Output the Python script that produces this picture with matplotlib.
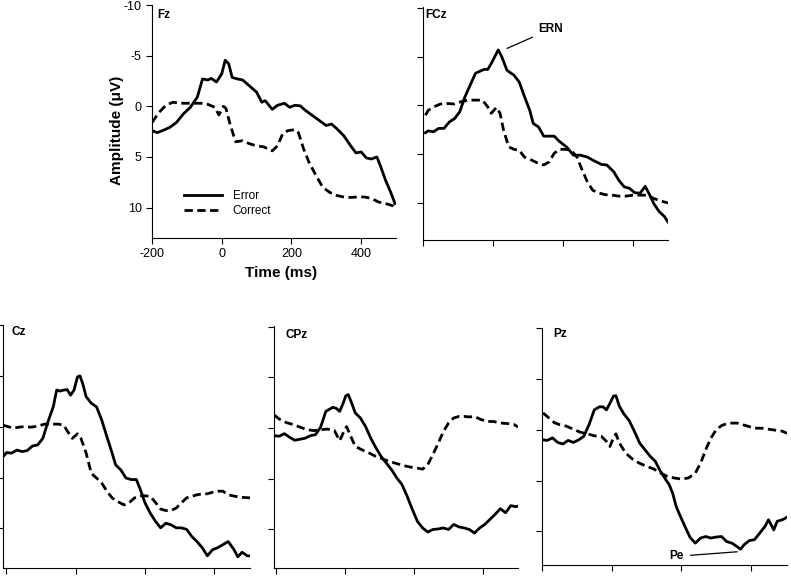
import numpy as np
import matplotlib.pyplot as plt

plt.rcParams['font.family'] = ['Liberation Sans', 'DejaVu Sans']
plt.rcParams['axes.unicode_minus'] = False

# ---- data (time in ms, amplitude in uV) ----
# Fz
fz_t_err = [-200, -185, -170, -150, -130, -110, -90, -70, -55, -40, -30, -15, 0, 10, 20, 30, 45, 60, 80,
            100, 115, 125, 145, 160, 180, 195, 210, 225, 240, 260, 280, 300, 315, 330, 350, 370, 385,
            400, 415, 430, 445, 455, 470, 485, 497]
fz_err = [2.4, 2.6, 2.4, 2.1, 1.6, 0.75, 0.1, -0.9, -2.7, -2.6, -2.75, -2.4, -3.2, -4.55, -4.2, -2.85,
          -2.7, -2.6, -2.0, -1.4, -0.4, -0.55, 0.3, -0.1, -0.3, 0.1, -0.1, -0.05, 0.4, 0.9, 1.4, 1.9,
          1.75, 2.2, 2.9, 3.9, 4.6, 4.5, 5.1, 5.2, 5.0, 5.85, 7.3, 8.5, 9.6]
fz_t_cor = [-200, -180, -160, -140, -120, -100, -80, -60, -40, -20, -8, 5, 12, 25, 40, 60, 80, 100, 120,
            145, 160, 175, 190, 210, 220, 235, 250, 270, 290, 310, 330, 350, 370, 390, 410, 430, 450,
            470, 490, 500]
fz_cor = [1.6, 0.6, -0.1, -0.4, -0.3, -0.3, -0.3, -0.3, -0.2, 0.1, 0.85, 0.0, 0.2, 1.9, 3.5, 3.4, 3.7,
          3.9, 4.0, 4.4, 3.9, 2.7, 2.4, 2.3, 2.6, 4.2, 5.5, 6.8, 8.0, 8.5, 8.8, 8.95, 9.0, 8.95, 8.95,
          9.1, 9.45, 9.6, 9.8, 10.2]

# FCz
fcz_t_err = [-193, -185, -170, -155, -140, -125, -110, -95, -80, -65, -50, -35, -25, -15, -5, 5, 15, 25,
             40, 60, 75, 90, 105, 115, 130, 145, 160, 175, 190, 210, 230, 250, 270, 290, 310, 325, 345,
             360, 375, 390, 405, 420, 435, 448, 460, 475, 490, 500]
fcz_err = [2.8, 2.6, 2.7, 2.35, 2.35, 1.7, 1.35, 0.65, -0.9, -2.1, -3.3, -3.55, -3.7, -3.7, -4.3, -5.0,
           -5.7, -5.0, -3.6, -3.1, -2.4, -0.9, 0.5, 1.85, 2.2, 3.15, 3.15, 3.15, 3.7, 4.25, 5.1, 5.1,
           5.3, 5.7, 6.05, 6.1, 6.8, 7.7, 8.35, 8.5, 8.95, 9.0, 8.3, 9.2, 10.1, 10.9, 11.4, 11.95]
fcz_t_cor = [-193, -185, -170, -150, -130, -110, -90, -70, -50, -30, -15, -5, 10, 20, 30, 45, 60, 75, 90,
             110, 130, 145, 160, 175, 190, 210, 225, 240, 255, 270, 285, 300, 320, 340, 360, 380, 400,
             420, 440, 460, 480, 500]
fcz_cor = [1.0, 0.5, 0.15, -0.15, -0.2, -0.15, -0.4, -0.55, -0.55, -0.55, 0.15, 0.8, 0.2, 0.8, 2.5, 4.25,
           4.5, 4.6, 5.3, 5.6, 5.95, 6.1, 5.8, 4.9, 4.5, 4.5, 4.65, 5.3, 6.65, 7.85, 8.7, 8.95, 9.15,
           9.2, 9.3, 9.3, 9.2, 9.2, 9.2, 9.55, 9.8, 10.0]

# Cz
cz_t_err = [-210, -200, -185, -170, -155, -140, -125, -110, -95, -80, -65, -55, -45, -35, -25, -15, -5,
            5, 12, 20, 30, 45, 60, 75, 90, 105, 115, 130, 145, 160, 175, 185, 200, 215, 230, 245, 260,
            275, 290, 305, 320, 335, 350, 365, 380, 395, 410, 425, 440, 455, 468, 480, 495, 503]
cz_err = [2.95, 2.55, 2.6, 2.3, 2.45, 2.35, 1.9, 1.8, 1.15, -0.5, -1.95, -3.6, -3.5, -3.6, -3.65, -3.1,
          -3.6, -4.9, -5.0, -4.25, -2.95, -2.3, -1.95, -0.65, 1.0, 2.6, 3.75, 4.25, 5.05, 5.2, 5.2, 6.05,
          7.5, 8.5, 9.3, 9.95, 9.5, 9.65, 9.95, 9.95, 10.1, 10.8, 11.3, 11.9, 12.7, 12.1, 11.9, 11.6,
          11.3, 12.0, 12.8, 12.35, 12.7, 12.7]
cz_t_cor = [-210, -195, -180, -165, -150, -130, -110, -90, -70, -50, -35, -20, -10, 5, 15, 30, 45, 60, 75,
            90, 105, 120, 140, 155, 170, 185, 200, 215, 230, 245, 260, 275, 290, 305, 320, 335, 350,
            365, 380, 395, 410, 425, 440, 460, 480, 503]
cz_cor = [-0.15, 0.0, 0.15, 0.05, 0.0, 0.05, -0.05, -0.25, -0.25, -0.25, -0.15, 0.65, 1.15, 0.7, 1.15,
          2.6, 4.6, 5.05, 5.55, 6.35, 7.0, 7.35, 7.7, 7.45, 7.0, 6.8, 6.8, 6.85, 7.45, 8.1, 8.25, 8.25,
          8.0, 7.5, 7.0, 6.85, 6.7, 6.6, 6.6, 6.45, 6.35, 6.35, 6.7, 6.85, 6.95, 7.0]

# CPz
cpz_t_err = [-205, -190, -175, -160, -145, -130, -115, -100, -85, -70, -55, -45, -35, -25, -15, -5, 3, 10,
             20, 30, 45, 60, 75, 90, 105, 120, 135, 150, 165, 180, 195, 210, 225, 240, 255, 270, 285,
             300, 315, 330, 345, 360, 375, 390, 405, 420, 435, 450, 465, 480, 495, 501]
cpz_err = [0.75, 0.8, 0.55, 0.9, 1.2, 1.1, 1.0, 0.75, 0.65, -0.1, -1.65, -1.85, -2.05, -1.95, -1.65,
           -2.45, -3.2, -3.3, -2.45, -1.5, -1.0, -0.15, 1.0, 1.95, 2.8, 3.45, 4.1, 4.9, 5.55, 6.7, 8.0,
           9.2, 9.85, 10.25, 10.0, 9.95, 9.85, 10.0, 9.5, 9.75, 9.85, 10.0, 10.35, 9.85, 9.5, 9.0, 8.5,
           7.95, 8.35, 7.65, 7.75, 7.7]
cpz_t_cor = [-205, -190, -170, -150, -130, -110, -90, -70, -50, -30, -15, -5, 5, 15, 30, 50, 70, 90, 110,
             130, 150, 170, 190, 210, 225, 240, 255, 270, 285, 300, 315, 330, 345, 360, 375, 390, 410,
             430, 450, 470, 490, 501]
cpz_cor = [-1.3, -0.9, -0.55, -0.35, -0.1, 0.15, 0.25, 0.15, 0.1, 0.25, 1.25, 0.5, -0.15, 0.65, 1.8,
           2.15, 2.45, 2.8, 3.05, 3.3, 3.5, 3.7, 3.85, 3.95, 4.05, 3.6, 2.6, 1.5, 0.35, -0.5, -1.0,
           -1.15, -1.15, -1.1, -1.15, -0.9, -0.65, -0.65, -0.5, -0.45, -0.35, -0.1]

# Pz
pz_t_err = [-197, -185, -170, -155, -140, -125, -110, -95, -80, -65, -50, -35, -25, -15, -5, 5, 12, 22,
            35, 50, 65, 80, 95, 110, 125, 140, 155, 165, 175, 185, 195, 210, 225, 240, 255, 270, 285,
            300, 315, 330, 345, 360, 370, 380, 395, 410, 425, 440, 450, 465, 475, 490, 503]
pz_err = [1.0, 1.05, 0.8, 1.25, 1.4, 1.05, 1.25, 1.0, 0.65, -0.5, -1.95, -2.25, -2.25, -1.95, -2.6,
          -3.3, -3.35, -2.3, -1.55, -0.9, 0.15, 1.3, 1.95, 2.6, 3.1, 4.1, 4.9, 5.4, 6.25, 7.55, 8.35,
          9.5, 10.6, 11.15, 10.65, 10.5, 10.65, 10.55, 10.5, 11.0, 11.15, 11.5, 11.75, 11.3, 10.9,
          10.8, 10.15, 9.5, 8.85, 9.85, 9.0, 8.85, 8.6]
pz_t_cor = [-197, -180, -165, -150, -130, -110, -90, -70, -50, -30, -15, -5, 5, 12, 22, 40, 60, 80, 100,
            120, 140, 160, 180, 200, 220, 240, 255, 270, 285, 300, 315, 330, 345, 360, 375, 390, 410,
            430, 450, 470, 490, 503]
pz_cor = [-1.65, -1.15, -0.7, -0.5, -0.35, -0.05, 0.25, 0.4, 0.6, 0.65, 1.15, 1.65, 0.8, 0.4, 1.3, 2.3,
          2.9, 3.3, 3.6, 3.85, 4.25, 4.6, 4.75, 4.85, 4.75, 4.25, 3.3, 1.95, 0.8, 0.0, -0.4, -0.6,
          -0.65, -0.65, -0.5, -0.35, -0.15, -0.15, -0.05, 0.05, 0.15, 0.35]

names = ['Fz', 'FCz', 'Cz', 'CPz', 'Pz']
t_err = [fz_t_err, fcz_t_err, cz_t_err, cpz_t_err, pz_t_err]
v_err = [fz_err, fcz_err, cz_err, cpz_err, pz_err]
t_cor = [fz_t_cor, fcz_t_cor, cz_t_cor, cpz_t_cor, pz_t_cor]
v_cor = [fz_cor, fcz_cor, cz_cor, cpz_cor, pz_cor]

x_ticks = [-200, 0, 200, 400]
y_ticks = [-10, -5, 0, 5, 10]

# ---- layout (pixel boxes: left, right, top, bottom) ----
W, H = 791, 579
boxes = [(152, 396, 5, 238), (423, 668, 7, 240), (3, 250, 325, 568),
         (274, 518, 326, 568), (542, 787, 328, 565)]
xlims = [(-200, 500), (-193, 500), (-210, 503), (-205, 501), (-197, 503)]
ylims = [(13, -10), (13.8, -10.1), (13.9, -10), (13.8, -10.07), (13.3, -10)]
lab_off = [(5, -10), (2, -8), (9, -7), (12, -9), (11, -6)]

fig = plt.figure(figsize=(W / 100, H / 100), dpi=100)
axes = []
for i, name in enumerate(names):
    l, r, tp, b = boxes[i]
    ax = fig.add_axes([l / W, 1 - b / H, (r - l) / W, (b - tp) / H])
    ax.plot(t_err[i], v_err[i], color='black', lw=2.0, label='Error')
    ax.plot(t_cor[i], v_cor[i], color='black', lw=2.0, ls=(0, (3.0, 1.6)), label='Correct')
    ax.set_xlim(*xlims[i])
    ax.set_ylim(*ylims[i])
    ax.set_xticks(x_ticks)
    ax.set_yticks(y_ticks)
    for s in ['top', 'right']:
        ax.spines[s].set_visible(False)
    ax.tick_params(direction='out', length=4, width=0.8, labelsize=9)
    if i != 0:
        ax.set_xticklabels([])
        ax.set_yticklabels([])
    ax.annotate(name, xy=(0, 1), xycoords='axes fraction', xytext=lab_off[i],
                textcoords='offset pixels', ha='left', va='center', fontsize=8.5, fontweight='bold')
    axes.append(ax)

ax0 = axes[0]
ax0.set_xlabel('Time (ms)', fontsize=11, fontweight='bold')
ax0.set_ylabel('Amplitude (μV)', fontsize=11, fontweight='bold')
ax0.xaxis.set_label_coords(0.53, -0.12)
ax0.yaxis.set_label_coords(-0.115, 0.46)
ax0.legend(loc='upper left', bbox_to_anchor=(0.105, 0.232), frameon=False, fontsize=8.5,
           handlelength=3.3, handletextpad=0.85, labelspacing=0.25, borderpad=0)

# component labels
axes[1].annotate('ERN', xy=(40, -5.85), xytext=(128, -7.8), fontsize=8.5, fontweight='bold',
                 ha='left', va='center',
                 arrowprops=dict(arrowstyle='-', color='black', lw=0.9, shrinkA=2, shrinkB=0))
axes[4].annotate('Pe', xy=(360, 12.0), xytext=(165, 12.45), fontsize=8.5, fontweight='bold',
                 ha='left', va='center',
                 arrowprops=dict(arrowstyle='-', color='black', lw=0.9, shrinkA=3, shrinkB=0))

fig.savefig('out.png', dpi=100)
